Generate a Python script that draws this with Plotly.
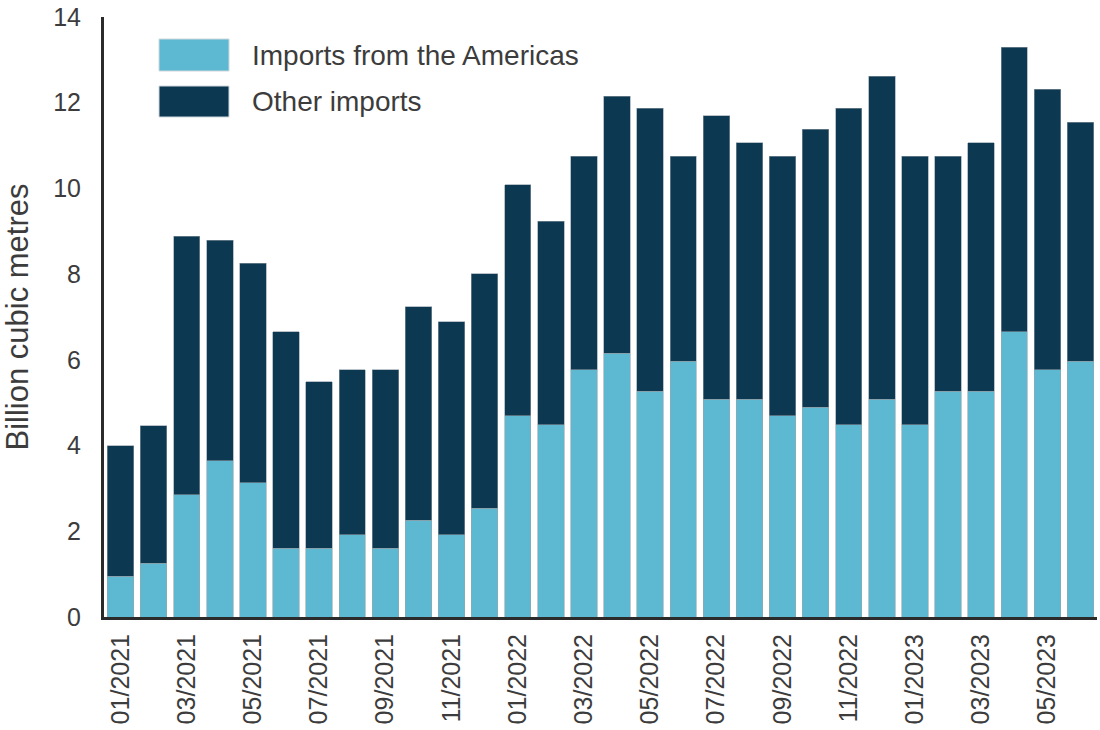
import plotly.graph_objects as go

months = ["01/2021","02/2021","03/2021","04/2021","05/2021","06/2021","07/2021","08/2021","09/2021","10/2021","11/2021","12/2021",
          "01/2022","02/2022","03/2022","04/2022","05/2022","06/2022","07/2022","08/2022","09/2022","10/2022","11/2022","12/2022",
          "01/2023","02/2023","03/2023","04/2023","05/2023","06/2023"]
americas = [0.95,1.25,2.85,3.65,3.13,1.6,1.6,1.92,1.6,2.26,1.92,2.54,
            4.70,4.49,5.77,6.15,5.27,5.97,5.08,5.08,4.70,4.90,4.49,5.08,
            4.49,5.27,5.27,6.66,5.77,5.97]
totals = [4.0,4.46,8.88,8.79,8.25,6.66,5.49,5.77,5.77,7.24,6.89,8.01,
          10.09,9.23,10.75,12.15,11.87,10.75,11.7,11.07,10.75,11.38,11.87,12.62,
          10.75,10.75,11.07,13.3,12.31,11.54]
other = [round(t - a, 2) for t, a in zip(totals, americas)]
tick_labels = months[::2]

LIGHT = "#5DB8D2"
DARK = "#0D3852"
TXT = "#3c3c3c"
FONT = "Liberation Sans, Arial, sans-serif"

L, R, T, B = 104, 3, 17, 113
W, H = 1100, 730
PW, PH = W - L - R, H - T - B

fig = go.Figure()
fig.add_bar(x=months, y=americas, name="Imports from the Americas", marker=dict(color=LIGHT, line=dict(color="#9aa4aa", width=0.6)))
fig.add_bar(x=months, y=other, name="Other imports", marker=dict(color=DARK, line=dict(color="#8a9aa4", width=0.6)))

fig.update_layout(
    barmode="stack", bargap=0.2,
    width=W, height=H,
    margin=dict(l=L, r=R, t=T, b=B, autoexpand=False),
    plot_bgcolor="white", paper_bgcolor="white",
    showlegend=False,
    font=dict(family=FONT, color=TXT),
)
fig.update_xaxes(
    type="category", tickmode="array", tickvals=tick_labels, ticktext=tick_labels,
    tickangle=-90, tickfont=dict(size=25, color=TXT),
    showline=True, linecolor="#2b2b2b", linewidth=3, ticks="", showgrid=False,
    ticklabelstandoff=4, automargin=False,
)
fig.update_yaxes(
    range=[0, 14], tickvals=[0,2,4,6,8,10,12,14], tickfont=dict(size=25, color=TXT),
    showline=True, linecolor="#2b2b2b", linewidth=3, ticks="", showgrid=False, zeroline=False,
    ticklabelstandoff=15, automargin=False,
    title=dict(text="Billion cubic metres", font=dict(size=31, color=TXT), standoff=20),
)

# custom legend
legend_items = [("Imports from the Americas", LIGHT, 39, 71), ("Other imports", DARK, 86, 117)]
for name, col, y0, y1 in legend_items:
    fig.add_shape(type="rect", xref="paper", yref="paper",
                  x0=(159-L)/PW, x1=(229-L)/PW,
                  y0=1-(y1-T)/PH, y1=1-(y0-T)/PH,
                  fillcolor=col, line=dict(color="#cfd8dc", width=1))
    fig.add_annotation(text=name, xref="paper", yref="paper",
                       x=(250-L)/PW, y=1-((y0+y1)/2-T)/PH,
                       xanchor="left", yanchor="middle", showarrow=False,
                       font=dict(size=28, color=TXT, family=FONT))

fig.write_html("out.html", config={"displayModeBar": False},
               post_script="document.body.style.margin='0';document.body.style.overflow='hidden';")
